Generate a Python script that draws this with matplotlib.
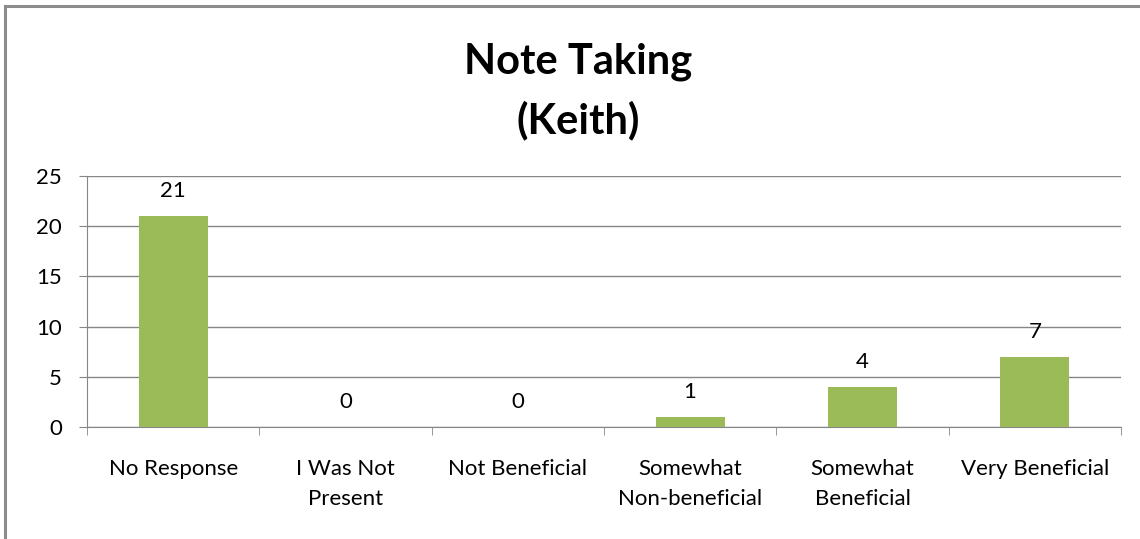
import matplotlib.pyplot as plt
from matplotlib.lines import Line2D
import numpy as np

categories = ['No Response', 'I Was Not\nPresent', 'Not Beneficial',
              'Somewhat\nNon-beneficial', 'Somewhat\nBeneficial', 'Very Beneficial']
counts = [21, 0, 0, 1, 4, 7]
yticks = [0, 5, 10, 15, 20, 25]

plt.rcParams['font.family'] = ['Lato', 'DejaVu Sans']
grey = '#868686'

fig = plt.figure(figsize=(11.4, 5.39), dpi=100)
ax = fig.add_axes([0.0763, 0.2078, 0.9070, 0.4657])

x = np.arange(len(categories))
ax.bar(x, counts, width=0.4, color='#9BBB59', zorder=3)

# data labels above bars
for xi, c in zip(x, counts):
    ax.annotate(str(c), (xi, c), xytext=(0, 15), textcoords='offset pixels',
                ha='center', va='bottom', fontsize=16)

ax.set_xlim(-0.5, len(categories) - 0.5)
ax.set_ylim(0, 25)
ax.set_yticks(yticks)
ax.yaxis.grid(True, color=grey, linewidth=1, zorder=0)

ax.set_xticks(x)
ax.set_xticklabels(categories, fontsize=16, linespacing=1.65)
ax.set_xticks(np.arange(-0.5, len(categories)), minor=True)
ax.tick_params(axis='x', which='major', length=0, pad=23)
ax.tick_params(axis='x', which='minor', length=6, color=grey, direction='out')
ax.tick_params(axis='y', length=6, color=grey, labelsize=16, pad=12)

for s in ['top', 'right']:
    ax.spines[s].set_visible(False)
for s in ['left', 'bottom']:
    ax.spines[s].set_color(grey)

fig.text(0.507, 0.885, 'Note Taking', ha='center', va='center',
         fontsize=30, fontweight='bold')
fig.text(0.507, 0.776, '(Keith)', ha='center', va='center',
         fontsize=30, fontweight='bold')

# chart border (top and left visible)
fig.add_artist(Line2D([0.004, 1.0], [0.989, 0.989], color='#8c8c8c', linewidth=2.2,
                      transform=fig.transFigure))
fig.add_artist(Line2D([0.004, 0.004], [0.0, 0.989], color='#8c8c8c', linewidth=2.2,
                      transform=fig.transFigure))

fig.savefig('out.png', dpi=100)
